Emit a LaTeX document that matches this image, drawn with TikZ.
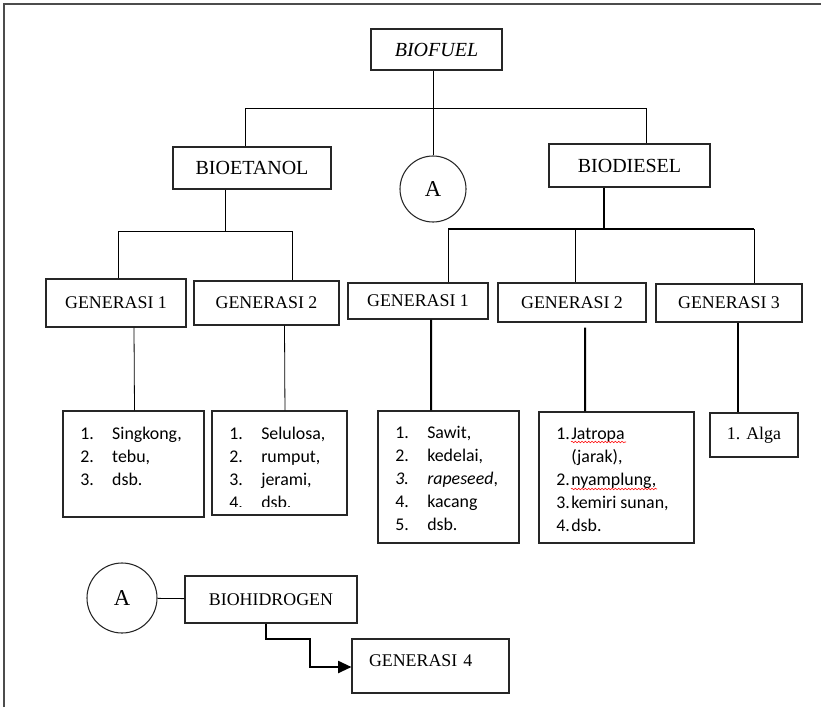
\documentclass[tikz,border=0pt]{standalone}
\usepackage{fontspec}
\setmainfont{Liberation Serif}
\newfontfamily\calibri{Carlito}
\usetikzlibrary{arrows.meta,decorations.pathmorphing}
\newcommand{\itm}[3][24pt]{\makebox[#1][l]{#2}#3}

\begin{document}
\begin{tikzpicture}[x=0.75pt,y=-0.75pt,
  box/.style={draw=black!85,line width=0.8pt,inner sep=0pt,font=\fontsize{13.4}{16}\selectfont},
  topbox/.style={box,font=\fontsize{15}{18}\selectfont},
  circ/.style={draw=black!85,line width=0.8pt,circle,inner sep=0pt,font=\fontsize{17}{20}\selectfont},
  list/.style={anchor=base west,inner sep=0pt,font=\calibri\fontsize{13.4}{17.4}\selectfont},
  link/.style={line width=0.6pt},
  boldlink/.style={line width=1.5pt},
  squig/.style={red,line width=0.4pt,decorate,decoration={snake,amplitude=0.6pt,segment length=2.5pt}}]
\useasboundingbox (0,0) rectangle (821,707);
\draw[black!70,line width=1.5pt] (4,707) -- (4,4) -- (821,4);

\node[topbox,font=\fontsize{15}{18}\selectfont\itshape,minimum width=98.25pt,minimum height=30.75pt] (biofuel) at (436.5,49.5) {BIOFUEL};
\node[topbox,minimum width=118.5pt,minimum height=31.5pt] (bioetanol) at (252,168) {BIOETANOL};
\node[circ,minimum size=49.5pt] (a) at (433,189) {A};
\node[topbox,minimum width=120.75pt,minimum height=32.25pt] (biodiesel) at (629.5,165.5) {BIODIESEL};

\node[box,minimum width=105pt,minimum height=36pt] (etgen1) at (116,303) {GENERASI 1};
\node[box,minimum width=108.75pt,minimum height=33pt] (etgen2) at (266.5,303) {GENERASI 2};
\node[box,minimum width=105pt,minimum height=27pt] (dsgen1) at (418,301) {GENERASI 1};
\node[box,minimum width=111pt,minimum height=29.25pt] (dsgen2) at (572,302.5) {GENERASI 2};
\node[box,minimum width=109.5pt,minimum height=28.5pt] (dsgen3) at (729,303) {GENERASI 3};

\node[box,minimum width=105.75pt,minimum height=79.5pt] (l1) at (133.5,464) {};
\node[box,minimum width=101.25pt,minimum height=78pt] (l2) at (279.5,463) {};
\node[box,minimum width=105.75pt,minimum height=99pt] (l3) at (448.5,477) {};
\node[box,minimum width=116.25pt,minimum height=98.25pt] (l4) at (616.5,477.5) {};
\node[box,minimum width=66pt,minimum height=33pt] (alga) at (754,435) {1. Alga};

\node[list] (l1txt) at (80,439) {\begin{tabular}[t]{@{}l@{}}
  \itm{1.}{Singkong,}\\ \itm{2.}{tebu,}\\ \itm{3.}{dsb.}
\end{tabular}};
\begin{scope}
\clip (l2.north west) rectangle ([yshift=6.75pt]l2.south east);
\node[list] (l2txt) at (229,439) {\begin{tabular}[t]{@{}l@{}}
  \itm{1.}{Selulosa,}\\ \itm{2.}{rumput,}\\ \itm{3.}{jerami,}\\ \itm{4.}{dsb.}
\end{tabular}};
\end{scope}
\node[list] (l3txt) at (395,438) {\begin{tabular}[t]{@{}l@{}}
  \itm{1.}{Sawit,}\\ \itm{2.}{kedelai,}\\ \itm{\textit{3.}}{\textit{rapeseed},}\\ \itm{4.}{kacang}\\ \itm{5.}{dsb.}
\end{tabular}};
\node[list] (l4txt) at (556,439) {\begin{tabular}[t]{@{}l@{}}
  \itm[11.25pt]{1.}{Jatropa}\\ \itm[11.25pt]{}{(jarak),}\\ \itm[11.25pt]{2.}{nyamplung,}\\ \itm[11.25pt]{3.}{kemiri sunan,}\\ \itm[11.25pt]{4.}{dsb.}
\end{tabular}};
\draw[squig] (571,442) -- (626,442);
\draw[squig] (571,489) -- (657,489);

\node[circ,minimum size=52.5pt] (a2) at (122,598) {A};
\node[box,minimum width=129pt,minimum height=35.25pt] (biohidrogen) at (271,599.5) {BIOHIDROGEN};
\node[box,minimum width=117.75pt,minimum height=40.5pt,text width=92.25pt,align=left,inner xsep=12.75pt,text depth=8pt] (gen4) at (430.5,666) {GENERASI 4};

\coordinate (t1) at (245,108);
\coordinate (t2) at (646,108);
\coordinate (e0) at (225,231);
\coordinate (e1) at (118,231);
\coordinate (e2) at (292,231);
\coordinate (d0) at (604,229);
\coordinate (d1) at (448,229);
\coordinate (d2) at (575,229);
\coordinate (d3) at (754,229);
\coordinate (h1) at (266,639);
\coordinate (h2) at (310,667);

\draw[link] (a.north |- biofuel.south) -- (a.north);
\draw[link] (bioetanol.north -| t1) -- (t1) -- (t2) -- (biodiesel.north -| t2);
\draw[link] (bioetanol.south -| e0) -- (e0);
\draw[link] (etgen1.north -| e1) -- (e1) -- (e2) -- (etgen2.north -| e2);
\draw[boldlink] (biodiesel.south -| d0) -- (d0);
\draw[boldlink] (d1) -- (d3);
\draw[link] (d1) -- (dsgen1.north -| d1);
\draw[link] (d2) -- (dsgen2.north -| d2);
\draw[link] (d3) -- (dsgen3.north -| d3);

\draw[link] ([xshift=13.5pt]etgen1.south) -- ([xshift=0.75pt]l1.north);
\draw[link] ([xshift=13.5pt]etgen2.south) -- ([xshift=4.1pt]l2.north);
\draw[boldlink] ([xshift=9.75pt]dsgen1.south) -- ([xshift=-13.1pt]l3.north);
\draw[boldlink] ([xshift=9.75pt,yshift=-3.75pt]dsgen2.south) -- ([xshift=-23.6pt]l4.north);
\draw[boldlink] ([xshift=6.75pt]dsgen3.south) -- ([xshift=-12pt]alga.north);

\draw[link] (a2) -- (biohidrogen);
\draw[boldlink,-{Triangle[length=10pt,width=9pt]}] (biohidrogen.south -| h1) -- (h1) -- (h1 -| h2) -- (h2) -- (gen4.west |- h2);
\end{tikzpicture}
\end{document}
